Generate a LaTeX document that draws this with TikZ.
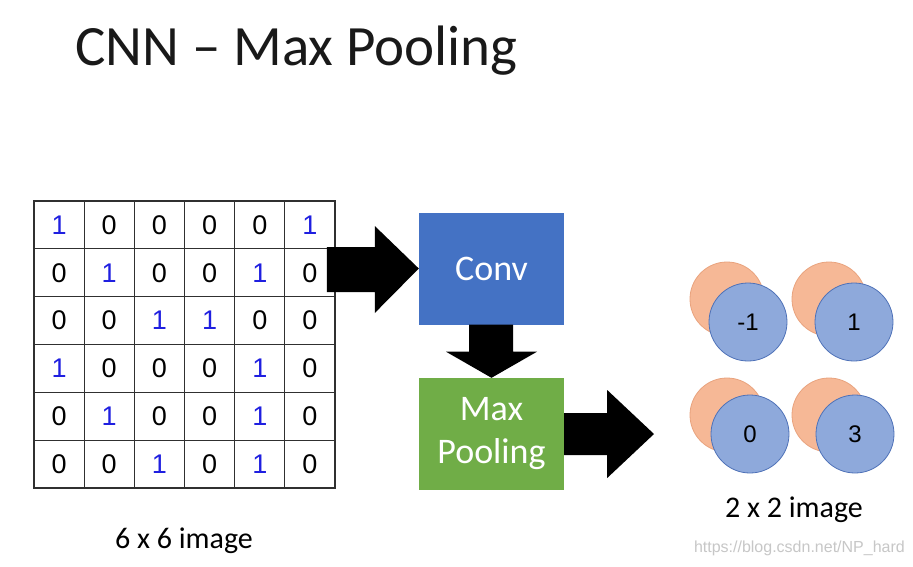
\documentclass[tikz,border=0pt]{standalone}
\usepackage{fontspec}
\setmainfont{Carlito}
\newfontfamily\wmfont{Liberation Sans}
\newfontfamily\digfont{Liberation Sans}
\usetikzlibrary{calc}
\definecolor{convblue}{HTML}{4472C4}
\definecolor{poolgreen}{HTML}{70AD47}
\definecolor{numblue}{HTML}{1F1FE0}
\definecolor{orfill}{HTML}{F6B896}
\definecolor{ordraw}{HTML}{E9A37E}
\definecolor{blfill}{HTML}{8EA9DB}
\definecolor{bldraw}{HTML}{4F72B8}
\definecolor{gridline}{HTML}{303030}
\newcommand{\gridnum}[1]{{\digfont\fontsize{27pt}{27pt}\selectfont\ifnum#1=1 \color{numblue}\fi #1}}
\newcommand{\circnum}[1]{{\digfont\fontsize{24pt}{24pt}\selectfont #1}}
\begin{document}
\begin{tikzpicture}[x=1pt,y=-1pt,
  cell/.style={draw=gridline,line width=1.1pt,minimum width=50.17pt,minimum height=47.83pt,inner sep=0pt},
  opbox/.style={minimum width=145pt,minimum height=112pt,inner sep=0pt,text=white,align=center,font=\fontsize{36}{43}\selectfont},
  blockarrow/.style={fill=black},
  orcirc/.style={circle,fill=orfill,draw=ordraw,line width=0.8pt,minimum size=74pt,inner sep=0pt},
  blcirc/.style={circle,fill=blfill,draw=bldraw,line width=0.8pt,minimum size=78pt,inner sep=0pt},
  caption/.style={anchor=base,font=\fontsize{30}{30}\selectfont}]
\useasboundingbox (0,0) rectangle (913,566);
\fill[white] (0,0) rectangle (913,566);
% title
\node[anchor=base west,inner sep=0pt,font=\fontsize{57}{57}\selectfont,text=black!90] (title) at (75,65) {CNN – Max Pooling};
% grid
\foreach \row [count=\r] in {{1,0,0,0,0,1},{0,1,0,0,1,0},{0,0,1,1,0,0},{1,0,0,0,1,0},{0,1,0,0,1,0},{0,0,1,0,1,0}} {
  \foreach \v [count=\c] in \row {
    \node[cell] (c-\r-\c) at ({34+50.17*(\c-0.5)},{201+47.83*(\r-0.5)}) {\gridnum{\v}};
  }
}
\node[caption] (cap1) at (184,548) {6 x 6 image};
% boxes
\node[opbox,fill=convblue] (conv) at (491.5,268.5) {Conv};
\node[opbox,fill=poolgreen] (pool) at (491.5,434) {Max\\Pooling};
% block arrows
\fill[blockarrow] ($(conv.west)+(-92,-21.5)$) -- ($(conv.west)+(-44,-21.5)$) -- ($(conv.west)+(-44,-42.5)$) -- (conv.west) -- ($(conv.west)+(-44,44.5)$) -- ($(conv.west)+(-44,23.5)$) -- ($(conv.west)+(-92,23.5)$) -- cycle;
\fill[blockarrow] ($(conv.south)+(-22.5,0)$) -- ($(conv.south)+(21.5,0)$) -- ($(conv.south)+(21.5,27)$) -- ($(conv.south)+(45.5,27)$) -- (pool.north) -- ($(conv.south)+(-45.5,27)$) -- ($(conv.south)+(-22.5,27)$) -- cycle;
\coordinate (out) at (654,434);
\fill[blockarrow] ($(pool.east)+(0,-21)$) -- ($(pool.east)+(43,-21)$) -- ($(pool.east)+(43,-44)$) -- (out) -- ($(pool.east)+(43,44)$) -- ($(pool.east)+(43,21)$) -- ($(pool.east)+(0,21)$) -- cycle;
% output circles
\node[orcirc] (o1) at (727,299) {};
\node[blcirc] (b1) at (748,322) {\circnum{-1}};
\node[orcirc] (o2) at (829,299) {};
\node[blcirc] (b2) at (854,322) {\circnum{1}};
\node[orcirc] (o3) at (727,415) {};
\node[blcirc] (b3) at (750,434) {\circnum{0}};
\node[orcirc] (o4) at (829,415) {};
\node[blcirc] (b4) at (855,434) {\circnum{3}};
\node[caption] (cap2) at (794,517) {2 x 2 image};
% watermark
\node[anchor=east,inner sep=0pt,text=black!22,font=\wmfont\fontsize{16}{16}\selectfont] (wm) at (905,548) {https://blog.csdn.net/NP\_hard};
\end{tikzpicture}
\end{document}
